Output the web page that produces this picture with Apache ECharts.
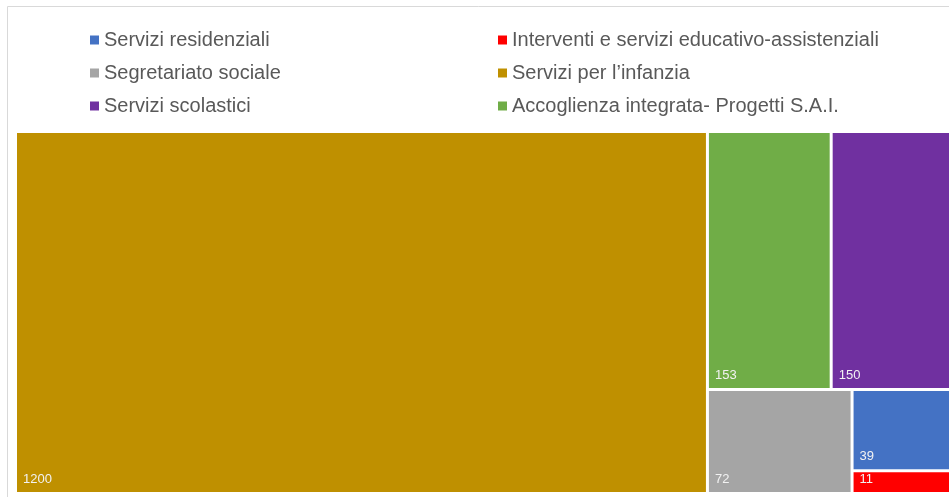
<!DOCTYPE html>
<html>
<head>
<meta charset="utf-8">
<script src="https://cdn.jsdelivr.net/npm/echarts@6/dist/echarts.min.js"></script>
<style>
  html, body { margin: 0; padding: 0; background: #fff; }
  #chart { width: 949px; height: 497px; }
</style>
</head>
<body>
<div id="chart"></div>
<script>
const categories = [
  "Servizi per l\u2019infanzia",
  "Accoglienza integrata- Progetti S.A.I.",
  "Servizi scolastici",
  "Segretariato sociale",
  "Servizi residenziali",
  "Interventi e servizi educativo-assistenziali"
];
const values = [1200, 153, 150, 72, 39, 11];
const colors = ["#BF9000", "#70AD47", "#7030A0", "#A5A5A5", "#4472C4", "#FF0000"];

// legend columns as in the original
const legendLeft = ["Servizi residenziali", "Segretariato sociale", "Servizi scolastici"];
const legendRight = [
  "Interventi e servizi educativo-assistenziali",
  "Servizi per l\u2019infanzia",
  "Accoglienza integrata- Progetti S.A.I."
];

const chart = echarts.init(document.getElementById("chart"));

const leaves = categories.map((name, i) => ({
  name: name,
  value: values[i],
  itemStyle: { color: colors[i] }
}));

const legendBase = {
  orient: "vertical",
  top: 25,
  icon: "rect",
  itemWidth: 9,
  itemHeight: 9,
  itemGap: 13,
  selectedMode: false,
  textStyle: {
    color: "#595959",
    fontSize: 20,
    fontFamily: "Liberation Sans Narrow, Liberation Sans",
    lineHeight: 20
  }
};

const option = {
  animation: false,
  legend: [
    Object.assign({}, legendBase, { left: 85, data: legendLeft }),
    Object.assign({}, legendBase, { left: 493, data: legendRight })
  ],
  graphic: [
    {
      type: "polyline",
      silent: true,
      shape: { points: [[7.5, 497], [7.5, 6.5], [949, 6.5]] },
      style: { stroke: "#D9D9D9", lineWidth: 1, fill: null }
    }
  ],
  series: [
    {
      // only feeds the legend colours, draws nothing
      type: "pie",
      radius: [0, 0],
      silent: true,
      label: { show: false },
      labelLine: { show: false },
      data: categories.map((name, i) => ({
        name: name,
        value: values[i],
        itemStyle: { color: colors[i] }
      }))
    },
    {
      type: "treemap",
      left: 17,
      top: 133,
      width: 934,
      height: 359,
      roam: false,
      nodeClick: false,
      breadcrumb: { show: false },
      label: {
        show: true,
        position: "insideBottomLeft",
        formatter: "{c}",
        color: "#F2F2F2",
        fontSize: 13,
        fontFamily: "Liberation Sans",
        padding: [0, 0, 6, 6]
      },
      upperLabel: { show: false },
      levels: [
        {
          itemStyle: { gapWidth: 3, borderWidth: 0, borderColor: "#fff" }
        },
        {
          itemStyle: { borderWidth: 0, gapWidth: 0 }
        }
      ],
      data: leaves
    }
  ]
};

chart.setOption(option);
</script>
</body>
</html>
